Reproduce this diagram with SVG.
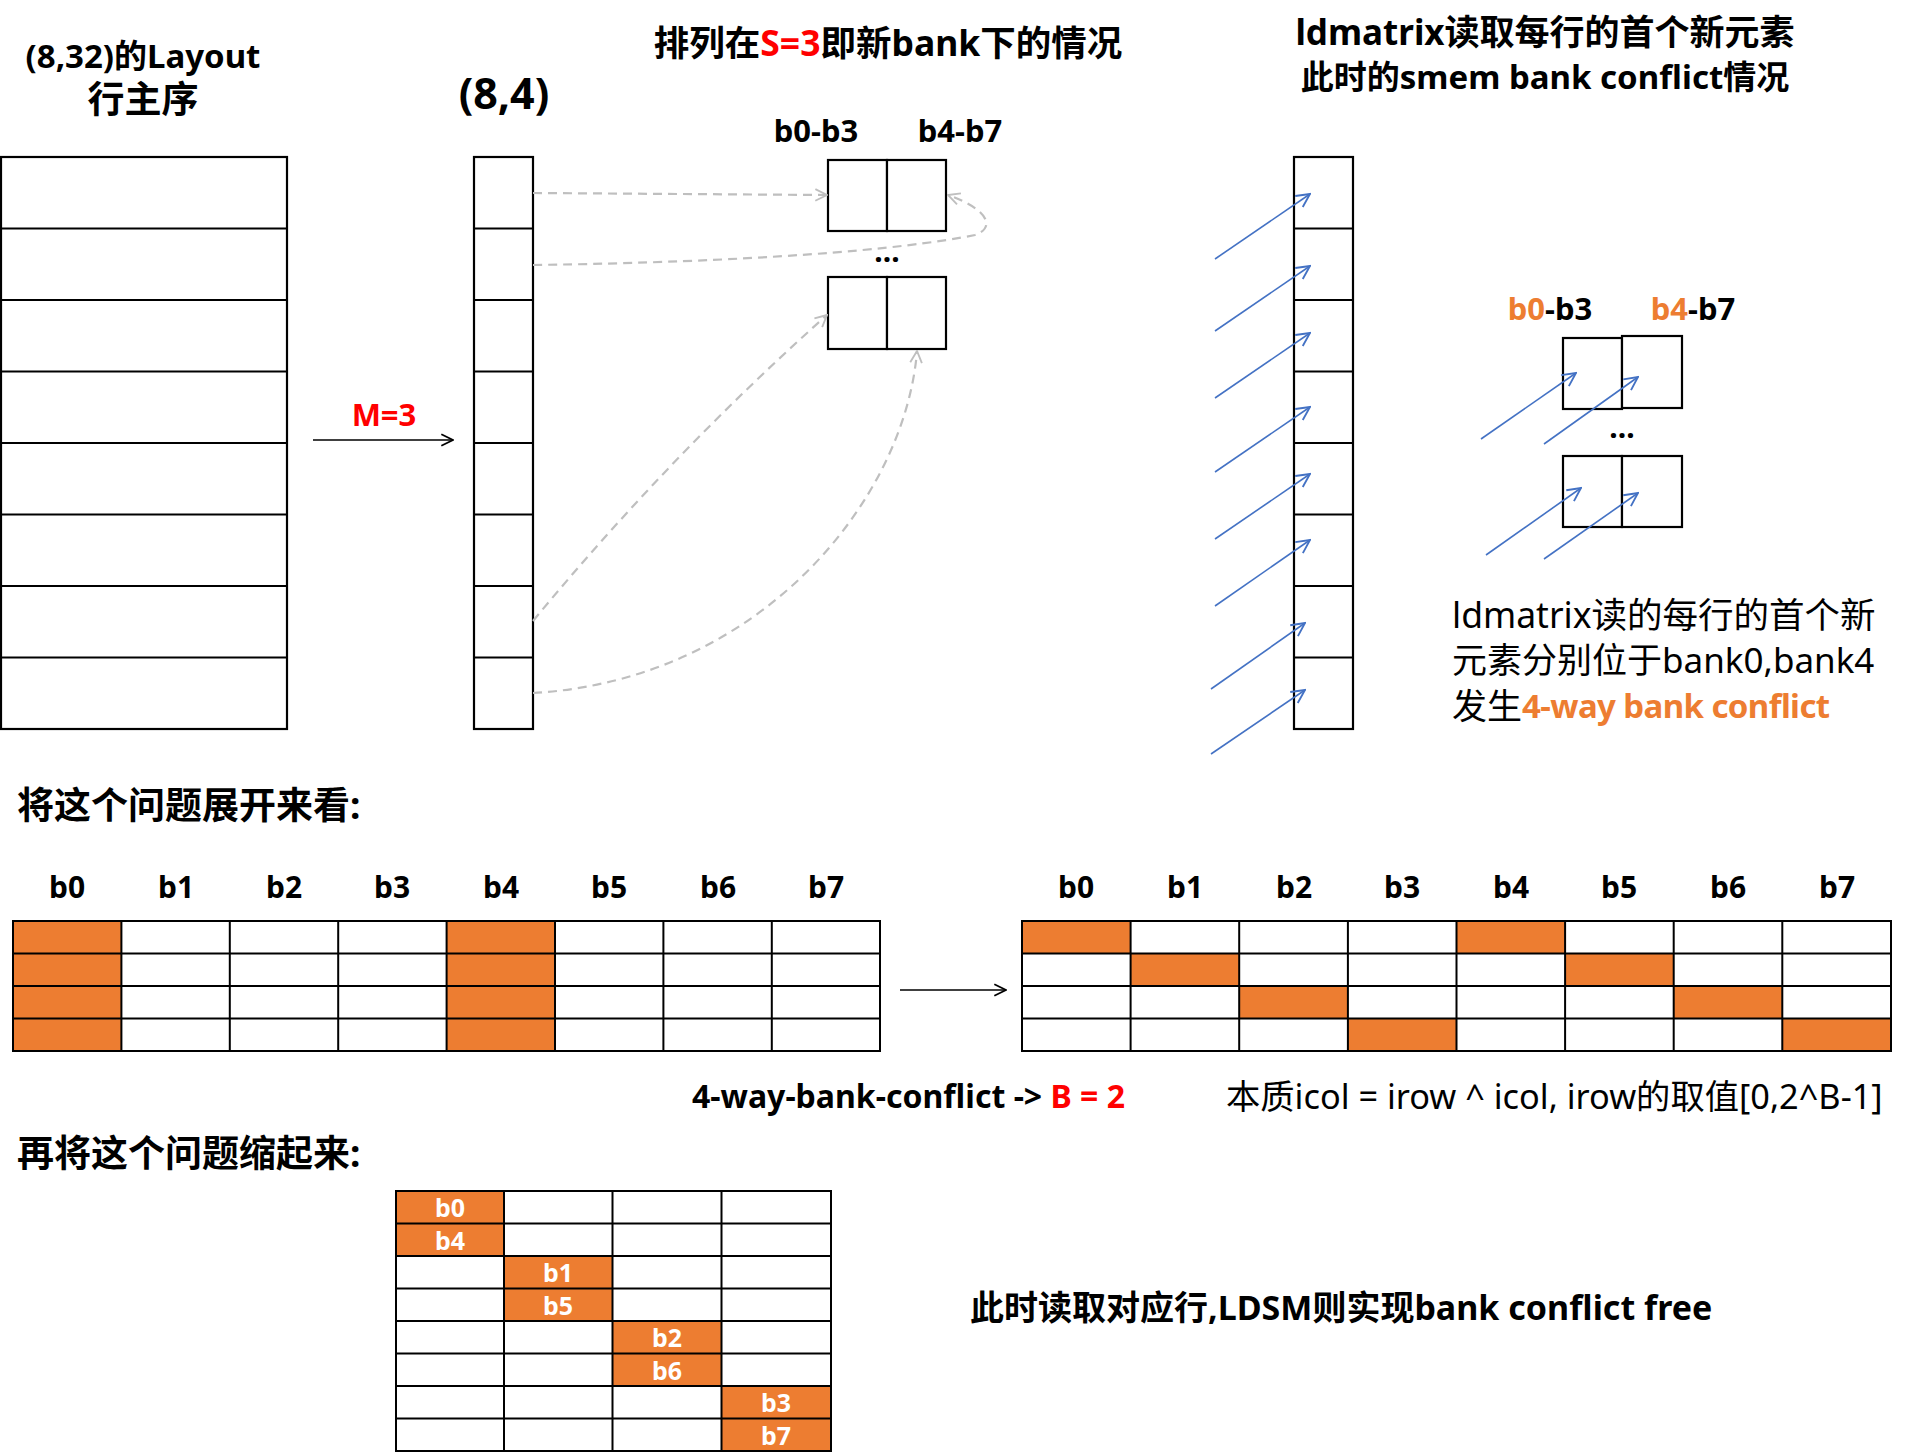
<svg xmlns="http://www.w3.org/2000/svg" width="1925" height="1453" viewBox="0 0 1925 1453">
<style>
.b{font-family:"Noto Sans","Noto Sans CJK SC",sans-serif;font-weight:bold;fill:#000}
.r{font-family:"Noto Sans","Noto Sans CJK SC",sans-serif;font-weight:normal;fill:#000}
.c{text-anchor:middle}
.box{fill:#fff;stroke:#000;stroke-width:2.2}
.ln{stroke:#000;stroke-width:2.2;fill:none}
.tl{stroke:#000;stroke-width:2;fill:none}
.or{fill:#ED7D31}
.red{fill:#FF0000}
.ora{fill:#ED7D31}
.wt{fill:#fff}
.gd{fill:none;stroke:#BFBFBF;stroke-width:2.2;stroke-dasharray:9 6}
.bl{fill:none;stroke:#4472C4;stroke-width:1.6}
.ar{fill:none;stroke:#000;stroke-width:1.6}
</style>
<defs>
<marker id="mg" viewBox="0 0 12 12" refX="11" refY="6" markerWidth="14" markerHeight="14" markerUnits="userSpaceOnUse" orient="auto"><path d="M1,1 L11,6 L1,11" fill="none" stroke="#BFBFBF" stroke-width="1.6"/></marker>
<marker id="mk" viewBox="0 0 12 12" refX="11" refY="6" markerWidth="14" markerHeight="14" markerUnits="userSpaceOnUse" orient="auto"><path d="M1,1 L11,6 L1,11" fill="none" stroke="#000" stroke-width="1.5"/></marker>
<marker id="mb" viewBox="0 0 12 12" refX="11" refY="6" markerWidth="16" markerHeight="16" markerUnits="userSpaceOnUse" orient="auto"><path d="M1,1 L11,6 L1,11" fill="none" stroke="#4472C4" stroke-width="1.4"/></marker>
</defs>
<rect width="1925" height="1453" fill="#fff"/>

<!-- titles -->
<g id="title-layout">
<text class="b c" x="143" y="55" font-size="33" dominant-baseline="central">(8,32)的Layout</text>
<text class="b c" x="143" y="98" font-size="37" dominant-baseline="central">行主序</text>
</g>
<g id="title-84"><text class="b c" x="504" y="92" font-size="43" dominant-baseline="central">(8,4)</text></g>
<g id="title-s3"><text class="b c" x="888" y="42" font-size="35.5" dominant-baseline="central">排列在<tspan class="red">S=3</tspan>即新bank下的情况</text></g>
<g id="title-ldm">
<text class="b c" x="1545" y="31" font-size="35" dominant-baseline="central">ldmatrix读取每行的首个新元素</text>
<text class="b c" x="1545" y="76" font-size="33" dominant-baseline="central">此时的smem bank conflict情况</text>
</g>

<!-- left table 8x1 -->
<g id="layout-8x32">
<rect class="box" x="1" y="157" width="286" height="572"/>
<path class="ln" d="M1,228.5H287M1,300H287M1,371.5H287M1,443H287M1,514.5H287M1,586H287M1,657.5H287"/>
</g>

<g id="label-m3"><text class="b c red" x="384" y="414" font-size="31" dominant-baseline="central">M=3</text></g>

<!-- (8,4) column -->
<g id="col-84">
<rect class="box" x="474" y="157" width="59" height="572"/>
<path class="ln" d="M474,228.5H533M474,300H533M474,371.5H533M474,443H533M474,514.5H533M474,586H533M474,657.5H533"/>
</g>

<!-- middle boxes -->
<g id="bank-hdr-mid">
<text class="b c" x="816" y="130" font-size="31" dominant-baseline="central">b0-b3</text>
<text class="b c" x="960" y="130" font-size="31" dominant-baseline="central">b4-b7</text>
</g>
<g id="mid-top">
<rect class="box" x="828" y="160" width="59" height="71"/>
<rect class="box" x="887" y="160" width="59" height="71"/>
</g>
<g id="mid-dots"><text class="b c" x="887" y="262" font-size="30">...</text></g>
<g id="mid-bot">
<rect class="box" x="828" y="277" width="59" height="72"/>
<rect class="box" x="887" y="277" width="59" height="72"/>
</g>

<!-- right column -->
<g id="col-right">
<rect class="box" x="1294" y="157" width="59" height="572"/>
<path class="ln" d="M1294,228.5H1353M1294,300H1353M1294,371.5H1353M1294,443H1353M1294,514.5H1353M1294,586H1353M1294,657.5H1353"/>
</g>

<g id="bank-hdr-right">
<text class="b c" x="1550" y="308" font-size="31" dominant-baseline="central"><tspan class="ora">b0</tspan>-b3</text>
<text class="b c" x="1693" y="308" font-size="31" dominant-baseline="central"><tspan class="ora">b4</tspan>-b7</text>
</g>
<g id="right-top">
<rect class="box" x="1563" y="338" width="59" height="71"/>
<rect class="box" x="1622" y="336" width="60" height="72"/>
</g>
<g id="right-dots"><text class="b c" x="1622" y="438" font-size="30">...</text></g>
<g id="right-bot">
<rect class="box" x="1563" y="456" width="59" height="71"/>
<rect class="box" x="1622" y="456" width="60" height="71"/>
</g>

<g id="note-right">
<text class="r" x="1452" y="614" font-size="35.5" dominant-baseline="central">ldmatrix读的每行的首个新</text>
<text class="r" x="1452" y="659" font-size="35" dominant-baseline="central">元素分别位于bank0,bank4</text>
<text class="r" x="1452" y="705" font-size="35" dominant-baseline="central">发生<tspan class="ora" font-weight="bold" font-size="33" letter-spacing="-0.6">4-way bank conflict</tspan></text>
</g>

<g id="heading-expand"><text class="b" x="17" y="804" font-size="37" dominant-baseline="central">将这个问题展开来看:</text></g>

<!-- table 1 -->
<g id="table-before">
<g font-size="30">
<text class="b c" x="67" y="886" dominant-baseline="central">b0</text>
<text class="b c" x="176" y="886" dominant-baseline="central">b1</text>
<text class="b c" x="284" y="886" dominant-baseline="central">b2</text>
<text class="b c" x="392" y="886" dominant-baseline="central">b3</text>
<text class="b c" x="501" y="886" dominant-baseline="central">b4</text>
<text class="b c" x="609" y="886" dominant-baseline="central">b5</text>
<text class="b c" x="718" y="886" dominant-baseline="central">b6</text>
<text class="b c" x="826" y="886" dominant-baseline="central">b7</text>
</g>
<rect class="or" x="13" y="921" width="108.4" height="130"/>
<rect class="or" x="446.6" y="921" width="108.4" height="130"/>
<rect class="tl" x="13" y="921" width="867" height="130"/>
<path class="tl" d="M13,953.5H880M13,986H880M13,1018.5H880M121.4,921V1051M229.8,921V1051M338.2,921V1051M446.6,921V1051M555,921V1051M663.4,921V1051M771.8,921V1051"/>
</g>

<!-- table 2 -->
<g id="table-after">
<g font-size="30">
<text class="b c" x="1076" y="886" dominant-baseline="central">b0</text>
<text class="b c" x="1185" y="886" dominant-baseline="central">b1</text>
<text class="b c" x="1294" y="886" dominant-baseline="central">b2</text>
<text class="b c" x="1402" y="886" dominant-baseline="central">b3</text>
<text class="b c" x="1511" y="886" dominant-baseline="central">b4</text>
<text class="b c" x="1619" y="886" dominant-baseline="central">b5</text>
<text class="b c" x="1728" y="886" dominant-baseline="central">b6</text>
<text class="b c" x="1837" y="886" dominant-baseline="central">b7</text>
</g>
<rect class="or" x="1022" y="921" width="108.6" height="32.5"/>
<rect class="or" x="1456.5" y="921" width="108.6" height="32.5"/>
<rect class="or" x="1130.6" y="953.5" width="108.6" height="32.5"/>
<rect class="or" x="1565.1" y="953.5" width="108.6" height="32.5"/>
<rect class="or" x="1239.2" y="986" width="108.7" height="32.5"/>
<rect class="or" x="1673.7" y="986" width="108.6" height="32.5"/>
<rect class="or" x="1347.9" y="1018.5" width="108.6" height="32.5"/>
<rect class="or" x="1782.3" y="1018.5" width="108.7" height="32.5"/>
<rect class="tl" x="1022" y="921" width="869" height="130"/>
<path class="tl" d="M1022,953.5H1891M1022,986H1891M1022,1018.5H1891M1130.6,921V1051M1239.2,921V1051M1347.9,921V1051M1456.5,921V1051M1565.1,921V1051M1673.7,921V1051M1782.3,921V1051"/>
</g>

<g id="note-bconf"><text class="b" x="692" y="1095" font-size="32" dominant-baseline="central">4-way-bank-conflict -&gt; <tspan class="red">B = 2</tspan></text></g>
<g id="note-essence"><text class="r" x="1226" y="1095" font-size="34.3" dominant-baseline="central">本质icol = irow ^ icol, irow的取值[0,2^B-1]</text></g>

<g id="heading-fold"><text class="b" x="17" y="1152" font-size="37" dominant-baseline="central">再将这个问题缩起来:</text></g>

<!-- table 3 -->
<g id="table-folded">
<rect class="or" x="396" y="1191" width="108" height="65"/>
<rect class="or" x="504" y="1256" width="108.5" height="65"/>
<rect class="or" x="612.5" y="1321" width="109" height="65"/>
<rect class="or" x="721.5" y="1386" width="109.5" height="65"/>
<rect class="tl" x="396" y="1191" width="435" height="260"/>
<path class="tl" d="M396,1223.5H831M396,1256H831M396,1288.5H831M396,1321H831M396,1353.5H831M396,1386H831M396,1418.5H831M504,1191V1451M612.5,1191V1451M721.5,1191V1451"/>
<g font-size="25">
<text class="b c wt" x="450" y="1207" dominant-baseline="central">b0</text>
<text class="b c wt" x="450" y="1240" dominant-baseline="central">b4</text>
<text class="b c wt" x="558" y="1272" dominant-baseline="central">b1</text>
<text class="b c wt" x="558" y="1305" dominant-baseline="central">b5</text>
<text class="b c wt" x="667" y="1337" dominant-baseline="central">b2</text>
<text class="b c wt" x="667" y="1370" dominant-baseline="central">b6</text>
<text class="b c wt" x="776" y="1402" dominant-baseline="central">b3</text>
<text class="b c wt" x="776" y="1435" dominant-baseline="central">b7</text>
</g>
</g>

<g id="note-free"><text class="b" x="970" y="1307" font-size="34" dominant-baseline="central">此时读取对应行,LDSM则实现bank conflict free</text></g>

<!-- connectors -->
<g id="connectors">
<path class="ar" d="M313,440H453" marker-end="url(#mk)"/>
<path class="ar" d="M900,990H1006" marker-end="url(#mk)"/>
<path class="gd" d="M533,193L827,195" marker-end="url(#mg)"/>
<path class="gd" d="M533,265C750,262 900,250 975,235C995,228 990,210 948,195" marker-end="url(#mg)"/>
<path class="gd" d="M533,621Q670,455 827,315" marker-end="url(#mg)"/>
<path class="gd" d="M533,693C760,680 905,500 917,351" marker-end="url(#mg)"/>
<path class="bl" d="M1215,259L1310,194" marker-end="url(#mb)"/>
<path class="bl" d="M1215,331L1310,266" marker-end="url(#mb)"/>
<path class="bl" d="M1215,398L1310,333" marker-end="url(#mb)"/>
<path class="bl" d="M1215,472L1310,407" marker-end="url(#mb)"/>
<path class="bl" d="M1215,539L1310,474" marker-end="url(#mb)"/>
<path class="bl" d="M1215,606L1310,540" marker-end="url(#mb)"/>
<path class="bl" d="M1211,689L1305,623" marker-end="url(#mb)"/>
<path class="bl" d="M1211,754L1305,690" marker-end="url(#mb)"/>
<path class="bl" d="M1481,439L1576,373" marker-end="url(#mb)"/>
<path class="bl" d="M1544,444L1638,377" marker-end="url(#mb)"/>
<path class="bl" d="M1486,555L1581,488" marker-end="url(#mb)"/>
<path class="bl" d="M1544,559L1638,493" marker-end="url(#mb)"/>
</g>
</svg>
